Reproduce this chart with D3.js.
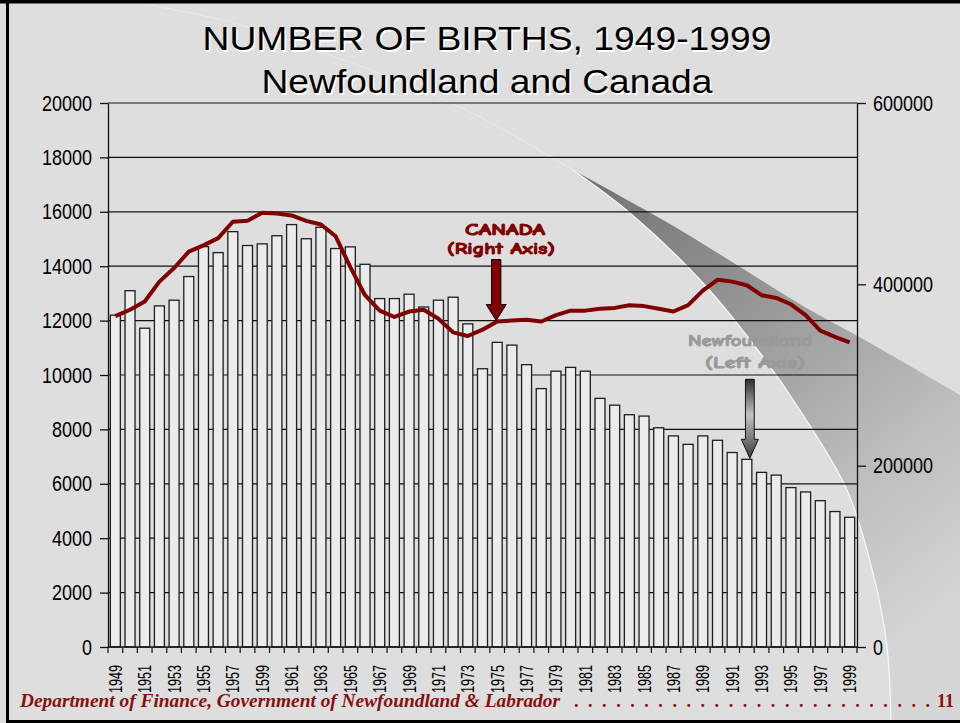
<!DOCTYPE html>
<html>
<head>
<meta charset="utf-8">
<script src="https://cdn.jsdelivr.net/npm/d3@7/dist/d3.min.js"></script>
<style>
html, body { margin: 0; padding: 0; background: #dedede; }
svg { display: block; }
</style>
</head>
<body>
<svg></svg>
<script>
// Births per year, 1949-1999
var years = [1949, 1950, 1951, 1952, 1953, 1954, 1955, 1956, 1957, 1958,
             1959, 1960, 1961, 1962, 1963, 1964, 1965, 1966, 1967, 1968,
             1969, 1970, 1971, 1972, 1973, 1974, 1975, 1976, 1977, 1978,
             1979, 1980, 1981, 1982, 1983, 1984, 1985, 1986, 1987, 1988,
             1989, 1990, 1991, 1992, 1993, 1994, 1995, 1996, 1997, 1998, 1999];

// Newfoundland (left axis, bars)
var nfldBirths = [12200, 13100, 11720, 12540, 12750, 13620, 14720, 14500, 15270, 14760,
                  14820, 15120, 15530, 15010, 15430, 14650, 14710, 14070, 12810, 12810,
                  12970, 12500, 12750, 12860, 11880, 10230, 11200, 11100, 10380, 9500,
                  10140, 10280, 10140, 9140, 8890, 8540, 8490, 8060, 7760, 7450,
                  7760, 7600, 7150, 6900, 6420, 6320, 5860, 5700, 5380, 4980, 4770];

// Canada (right axis, line)
var canadaBirths = [365000, 372000, 381000, 403000, 418000, 436000, 443000, 451000, 469000, 470000,
                    479000, 478000, 476000, 470000, 466000, 453000, 419000, 388000, 371000, 364000,
                    370000, 372000, 362000, 347000, 343000, 350000, 359000, 360000, 361000, 359000,
                    366000, 371000, 371000, 373000, 374000, 377000, 376000, 373000, 370000, 377000,
                    393000, 405000, 403000, 399000, 388000, 385000, 378000, 366000, 349000, 342000, 336000];

// every second year is labelled (the slide has "1599" for 1959)
var xLabelYears = [1949, 1951, 1953, 1955, 1957, 1959, 1961, 1963, 1965, 1967, 1969, 1971, 1973,
                   1975, 1977, 1979, 1981, 1983, 1985, 1987, 1989, 1991, 1993, 1995, 1997, 1999];
var xLabels = ["1949", "1951", "1953", "1955", "1957", "1599", "1961", "1963", "1965", "1967", "1969", "1971", "1973",
               "1975", "1977", "1979", "1981", "1983", "1985", "1987", "1989", "1991", "1993", "1995", "1997", "1999"];

var leftTicks = [0, 2000, 4000, 6000, 8000, 10000, 12000, 14000, 16000, 18000, 20000];
var rightTicks = [0, 200000, 400000, 600000];

var W = 960, H = 723;
var margin = {top: 103, right: 103, bottom: 76, left: 108};
var x0 = margin.left, x1 = W - margin.right;
var y0 = H - margin.bottom, y1 = margin.top;

var narrow = "'Liberation Sans Narrow','Arial Narrow','Liberation Sans',Arial,sans-serif";
var comic = "'Comic Sans MS','Comic Neue','DejaVu Sans',sans-serif";
var darkRed = "#800000";

var svg = d3.select("svg")
    .attr("width", W)
    .attr("height", H);

var defs = svg.append("defs");

var swooshGrad = defs.append("linearGradient")
    .attr("id", "swoosh")
    .attr("gradientUnits", "userSpaceOnUse")
    .attr("x1", 590).attr("y1", 175)
    .attr("x2", 950).attr("y2", 620);
swooshGrad.append("stop").attr("offset", 0).attr("stop-color", "#727272");
swooshGrad.append("stop").attr("offset", 0.35).attr("stop-color", "#969696");
swooshGrad.append("stop").attr("offset", 0.7).attr("stop-color", "#bdbdbd");
swooshGrad.append("stop").attr("offset", 1).attr("stop-color", "#d6d6d6");

var arrowGrad = defs.append("linearGradient")
    .attr("id", "nfArrow")
    .attr("x1", 0).attr("y1", 0).attr("x2", 0).attr("y2", 1);
arrowGrad.append("stop").attr("offset", 0).attr("stop-color", "#2e2e2e");
arrowGrad.append("stop").attr("offset", 0.45).attr("stop-color", "#c4c4c4");
arrowGrad.append("stop").attr("offset", 0.75).attr("stop-color", "#7a7a7a");
arrowGrad.append("stop").attr("offset", 1).attr("stop-color", "#3a3a3a");

// slide background
svg.append("rect")
    .attr("width", W).attr("height", H)
    .attr("fill", "#dedede");

// decorative swoosh
var arcPts = [[573, 170], [630, 213], [703, 283], [763, 357], [803, 415], [847, 490], [873, 573], [887, 647], [891, 723]];
var upperPts = [[573, 170], [670, 224], [737, 265], [803, 306], [870, 343], [960, 395]];
var smooth = d3.line().curve(d3.curveCatmullRom);

svg.append("path")
    .attr("d", smooth(upperPts) + "L960,723L891,723" + smooth(arcPts.slice().reverse()).replace(/^M/, "L") + "Z")
    .attr("fill", "url(#swoosh)");

svg.append("path")
    .attr("d", smooth([[120, 0], [230, 22], [330, 55], [433, 95], [480, 117], [573, 170]]))
    .attr("fill", "none")
    .attr("stroke", "#f4f4f4")
    .attr("stroke-opacity", 0.5)
    .attr("stroke-width", 1.2);
svg.append("path")
    .attr("d", smooth(arcPts))
    .attr("fill", "none")
    .attr("stroke", "#f6f6f6")
    .attr("stroke-width", 1.3);

// slide frame
svg.append("rect").attr("x", 0).attr("y", 0).attr("width", W).attr("height", 3.5).attr("fill", "#000");
svg.append("rect").attr("x", 6).attr("y", 0).attr("width", 3).attr("height", H).attr("fill", "#000");
svg.append("rect").attr("x", 6).attr("y", 720).attr("width", W).attr("height", 3).attr("fill", "#000");

// title
var titleLines = [
    {text: "NUMBER OF BIRTHS, 1949-1999", y: 50, len: 569},
    {text: "Newfoundland and Canada", y: 93, len: 451}
];
[["#ffffff", 1.5], ["#000000", 0]].forEach(function(style) {
    svg.selectAll(null)
        .data(titleLines)
        .enter()
        .append("text")
        .attr("x", 487 + style[1])
        .attr("y", function(d) { return d.y + style[1]; })
        .attr("text-anchor", "middle")
        .attr("textLength", function(d) { return d.len; })
        .attr("lengthAdjust", "spacingAndGlyphs")
        .style("font-family", narrow)
        .style("font-size", "33px")
        .style("fill", style[0])
        .text(function(d) { return d.text; });
});

// scales
var x = d3.scaleBand()
    .domain(years)
    .range([x0, x1])
    .paddingInner(0.32)
    .paddingOuter(0.16);
var yL = d3.scaleLinear().domain([0, 20000]).range([y0, y1]);
var yR = d3.scaleLinear().domain([0, 600000]).range([y0, y1]);
var gap = x.step() * x.paddingInner() / 2;

// gridlines
svg.append("g")
    .selectAll("line")
    .data(leftTicks.slice(1))
    .enter()
    .append("line")
    .attr("x1", x0).attr("x2", x1)
    .attr("y1", function(d) { return yL(d); })
    .attr("y2", function(d) { return yL(d); })
    .attr("stroke", "#111")
    .attr("stroke-width", 1.2);

// Newfoundland bars
svg.append("g")
    .selectAll("rect")
    .data(years)
    .enter()
    .append("rect")
    .attr("x", function(d) { return x(d); })
    .attr("y", function(d, i) { return yL(nfldBirths[i]); })
    .attr("width", x.bandwidth())
    .attr("height", function(d, i) { return y0 - yL(nfldBirths[i]); })
    .attr("fill", "#ebebeb")
    .attr("stroke", "#1e1e1e")
    .attr("stroke-width", 1.3);

// left axis
var leftAxis = svg.append("g")
    .attr("transform", "translate(" + x0 + ",0)")
    .call(d3.axisLeft(yL).tickValues(leftTicks).tickSize(8).tickSizeOuter(0).tickPadding(8).tickFormat(d3.format("d")));
leftAxis.selectAll("text")
    .attr("textLength", function(d) { return String(d).length * 10; })
    .attr("lengthAdjust", "spacingAndGlyphs")
    .style("font-family", narrow)
    .style("font-size", "22px")
    .style("fill", "#000");

// right axis
var rightAxis = svg.append("g")
    .attr("transform", "translate(" + x1 + ",0)")
    .call(d3.axisRight(yR).tickValues(rightTicks).tickSize(9).tickSizeOuter(0).tickPadding(7).tickFormat(d3.format("d")));
rightAxis.selectAll("text")
    .attr("textLength", function(d) { return String(d).length * 10; })
    .attr("lengthAdjust", "spacingAndGlyphs")
    .style("font-family", narrow)
    .style("font-size", "22px")
    .style("fill", "#000");
svg.selectAll(".domain, .tick line")
    .attr("stroke", "#111")
    .attr("stroke-width", 1.3);

// x axis: ticks at category boundaries, label every second year
var boundaries = years.map(function(d) { return x(d) - gap; }).concat([x1]);
var bottom = svg.append("g");
bottom.append("line")
    .attr("x1", x0).attr("x2", x1)
    .attr("y1", y0).attr("y2", y0)
    .attr("stroke", "#111")
    .attr("stroke-width", 1.5);
bottom.selectAll("line.tk")
    .data(boundaries)
    .enter()
    .append("line")
    .attr("class", "tk")
    .attr("x1", function(d) { return d; })
    .attr("x2", function(d) { return d; })
    .attr("y1", y0).attr("y2", y0 + 6)
    .attr("stroke", "#111")
    .attr("stroke-width", 1.2);
bottom.selectAll("text")
    .data(xLabelYears)
    .enter()
    .append("text")
    .attr("transform", function(d) { return "translate(" + (x(d) + x.bandwidth() / 2) + "," + (y0 + 18) + ") rotate(-90)"; })
    .attr("dy", "0.36em")
    .attr("text-anchor", "end")
    .attr("textLength", 28)
    .attr("lengthAdjust", "spacingAndGlyphs")
    .style("font-family", narrow)
    .style("font-size", "18px")
    .text(function(d, i) { return xLabels[i]; });

// Canada line
var line = d3.line()
    .x(function(d) { return x(d) + x.bandwidth() / 2; })
    .y(function(d, i) { return yR(canadaBirths[i]); });
svg.append("path")
    .datum(years)
    .attr("d", line)
    .attr("fill", "none")
    .attr("stroke", darkRed)
    .attr("stroke-width", 4)
    .attr("stroke-linejoin", "round");

// annotations
function downArrow(tx, ty, len, headLen, halfShaft, halfHead) {
    return "M" + (tx - halfShaft) + "," + (ty - len) +
        "L" + (tx + halfShaft) + "," + (ty - len) +
        "L" + (tx + halfShaft) + "," + (ty - headLen) +
        "L" + (tx + halfHead) + "," + (ty - headLen) +
        "L" + tx + "," + ty +
        "L" + (tx - halfHead) + "," + (ty - headLen) +
        "L" + (tx - halfShaft) + "," + (ty - headLen) + "Z";
}

var iCan = years.indexOf(1975);
var cx = x(1975) + x.bandwidth() / 2 - 1;
svg.append("path")
    .attr("d", downArrow(cx, yR(canadaBirths[iCan]) - 1, 61, 16, 4.7, 10))
    .attr("fill", darkRed)
    .attr("stroke", "#000")
    .attr("stroke-width", 1);

var iNf = years.indexOf(1992);
var nx = x(1992) + x.bandwidth() - 2;
svg.append("path")
    .attr("d", downArrow(nx, yL(nfldBirths[iNf]) - 1, 79, 19, 4.4, 8.5))
    .attr("fill", "url(#nfArrow)")
    .attr("stroke", "#111")
    .attr("stroke-width", 1);

var notes = [
    {text: "CANADA", x: 505, y: 235, len: 80, color: darkRed},
    {text: "(Right Axis)", x: 501, y: 254, len: 108, color: darkRed},
    {text: "Newfoundland", x: 750, y: 346, len: 124, color: "#999999"},
    {text: "(Left Axis)", x: 755, y: 368, len: 100, color: "#999999"}
];
svg.selectAll(null)
    .data(notes)
    .enter()
    .append("text")
    .attr("x", function(d) { return d.x; })
    .attr("y", function(d) { return d.y; })
    .attr("text-anchor", "middle")
    .attr("textLength", function(d) { return d.len; })
    .attr("lengthAdjust", "spacingAndGlyphs")
    .style("font-family", comic)
    .style("font-weight", "bold")
    .style("font-size", "16px")
    .style("fill", function(d) { return d.color; })
    .style("stroke", function(d) { return d.color; })
    .style("stroke-width", 0.9)
    .text(function(d) { return d.text; });

// footer
var footer = svg.append("g")
    .style("font-family", "'Liberation Serif','Times New Roman',serif")
    .style("font-style", "italic")
    .style("font-weight", "bold")
    .style("font-size", "18px")
    .style("fill", "#8a0f0f");
footer.append("text")
    .attr("x", 20).attr("y", 707)
    .attr("textLength", 540)
    .attr("lengthAdjust", "spacingAndGlyphs")
    .text("Department of Finance, Government of Newfoundland & Labrador");
footer.append("text")
    .attr("x", 574).attr("y", 707)
    .attr("textLength", 356)
    .attr("lengthAdjust", "spacing")
    .style("font-style", "normal")
    .text(". . . . . . . . . . . . . . . . . . . . . . . . . .");
footer.append("text")
    .attr("x", 954).attr("y", 707)
    .attr("text-anchor", "end")
    .style("font-style", "normal")
    .text("11");
</script>
</body>
</html>
